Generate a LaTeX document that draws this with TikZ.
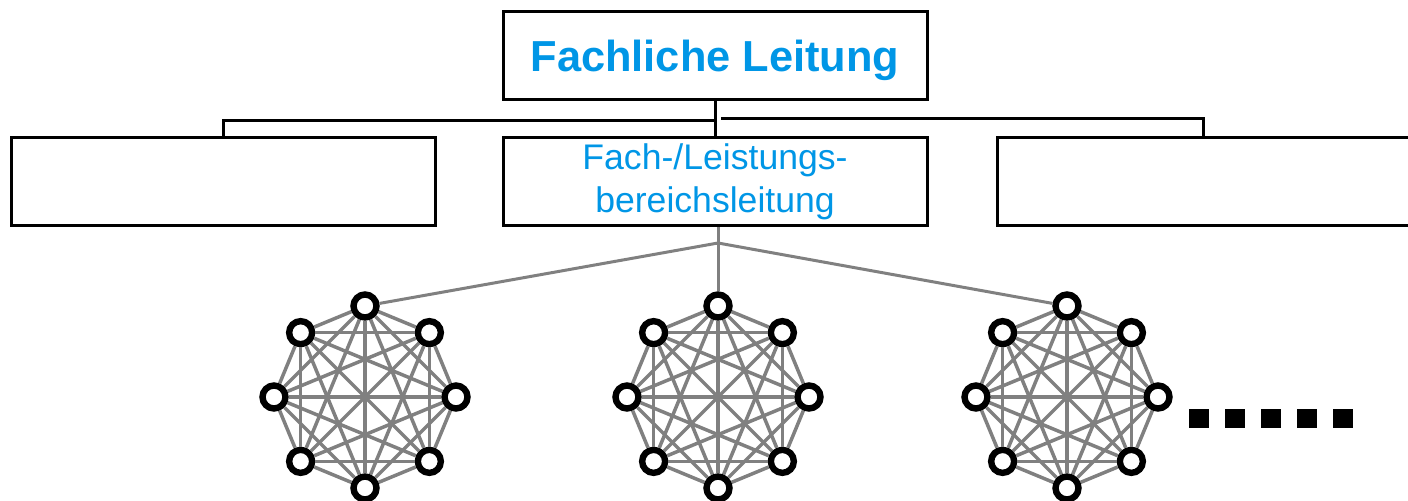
\documentclass[tikz,border=0pt]{standalone}
\usepackage{fontspec}
\setmainfont{Liberation Sans}
\definecolor{leitblau}{RGB}{0,150,230}
\begin{document}
\begin{tikzpicture}[x=0.5pt,y=0.5pt,
  box/.style={draw,line width=1.5pt,minimum width=212pt,minimum height=44pt,inner sep=0pt},
  orgline/.style={line width=1.5pt},
  fanline/.style={gray,line width=1.5pt},
  member/.style={circle,draw,fill=white,line width=3.2pt,minimum size=11.5pt,inner sep=0pt},
  link/.style={gray,line width=1.75pt},
  ellip/.style={fill,minimum width=10pt,minimum height=9.5pt,inner sep=0pt}]
\useasboundingbox (0,0) rectangle (1408,500);
\clip (0,0) rectangle (1408,500);
% boxes
\node[box,text=leitblau,text depth=0pt,font=\bfseries\fontsize{21.7}{26}\selectfont] (top) at (715,444.5) {Fachliche Leitung};
\node[box] (left) at (223,318.5) {};
\node[box,text=leitblau,align=center,font=\fontsize{17.8}{21.5}\selectfont] (mid) at (715,318.5) {Fach-/Leistungs-\\bereichsleitung};
\node[box] (right) at (1209,318.5) {};
% org lines
\coordinate (jl) at (715,380);
\coordinate (jr) at (721,382);
\draw[orgline] (top.south) -- (mid.north);
\draw[orgline] (jl) -| (left.north);
\draw[orgline] (jr) -| ([xshift=-3pt]right.north);
% teams
\foreach \g/\cx in {l/365,m/718,r/1067} {
  \foreach \k in {0,...,7}
    \node[member] (\g\k) at ({\cx+91*cos(90+45*\k)},{103+91*sin(90+45*\k)}) {};
  \foreach \i in {0,...,6} {
    \pgfmathtruncatemacro\nxt{\i+1}
    \foreach \j in {\nxt,...,7}
      \draw[link] (\g\i) -- (\g\j);
  }
}
\coordinate (fan) at (718,257);
\draw[fanline] (mid.south -| fan) -- (fan) -- (m0);
\draw[fanline] (fan) -- (l0);
\draw[fanline] (fan) -- (r0);
% more teams
\foreach \k in {0,...,4}
  \node[ellip] (dot\k) at (1199+36*\k,81.5) {};
\end{tikzpicture}
\end{document}
